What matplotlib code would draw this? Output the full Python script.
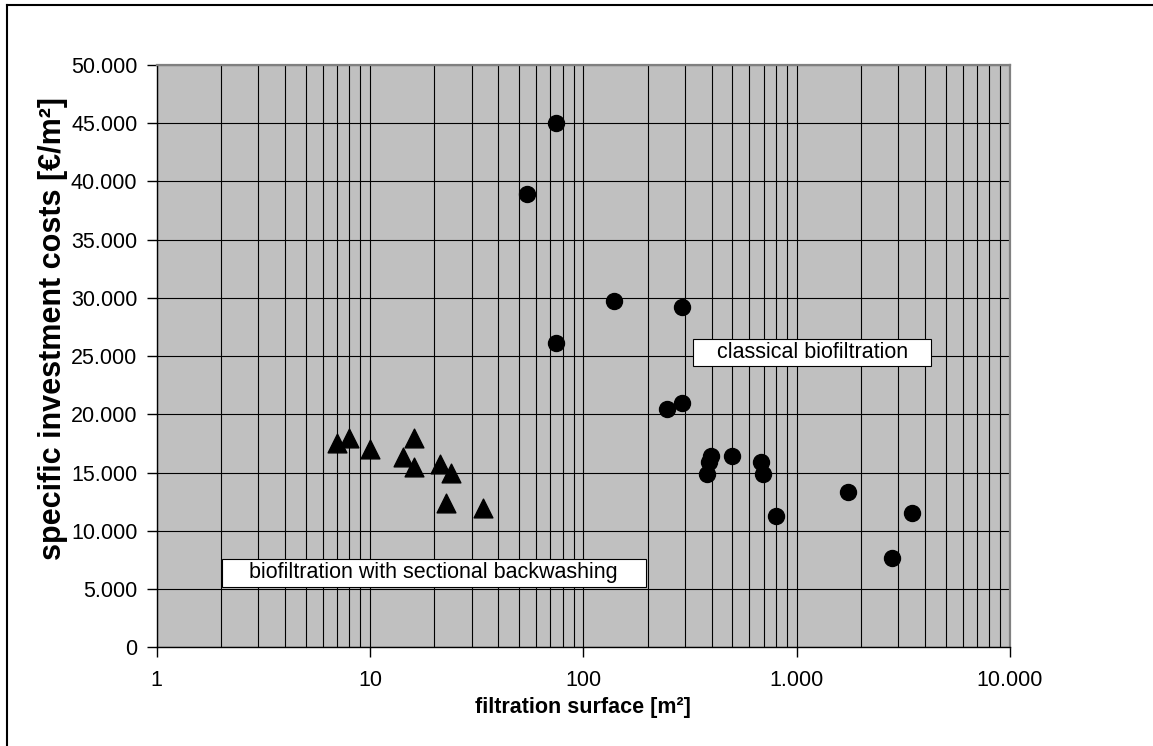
import matplotlib
matplotlib.use("Agg")
import matplotlib.pyplot as plt
from matplotlib.ticker import FixedLocator, FuncFormatter, LogLocator, NullFormatter
from matplotlib.patches import Rectangle
from matplotlib.lines import Line2D

plt.rcParams['font.family'] = ['Liberation Sans', 'DejaVu Sans']

# Data: biofiltration with sectional backwashing (triangles)
sect_area = [7.0, 8.0, 10.0, 16.0, 14.2, 16.0, 21.3, 24.0, 22.6, 34.0]
sect_cost = [17500, 18000, 17000, 18000, 16300, 15450, 15750, 15000, 12400, 12000]

# Data: classical biofiltration (circles)
class_area = [74.5, 54.6, 139, 289, 74.5, 248, 289, 397, 388, 379, 500, 679, 698, 798, 1746, 3485, 2800]
class_cost = [45000, 38900, 29700, 29200, 26100, 20500, 21000, 16400, 15900, 14900, 16400, 15900, 14900, 11300, 13300, 11500, 7700]

y_ticks = [0, 5000, 10000, 15000, 20000, 25000, 30000, 35000, 40000, 45000, 50000]
x_ticks = [1, 10, 100, 1000, 10000]

xlabel = "filtration surface [m²]"
ylabel = "specific investment costs [€/m²]"
label_classical = "classical biofiltration"
label_sectional = "biofiltration with sectional backwashing"

W, H = 1153, 746
fig = plt.figure(figsize=(W / 100, H / 100), dpi=100)
fig.patch.set_facecolor('white')

left, right, bottom, top = 156.7, 1010.0, 647.3, 65.0
ax = fig.add_axes([left / W, 1 - bottom / H, (right - left) / W, (bottom - top) / H])
ax.set_facecolor('#C0C0C0')

ax.set_xscale('log')
ax.set_xlim(1, 10000)
ax.set_ylim(0, 50000)

def thousands(v, pos=None):
    return f"{int(round(v)):,}".replace(",", ".")

ax.xaxis.set_major_locator(FixedLocator(x_ticks))
ax.xaxis.set_major_formatter(FuncFormatter(thousands))
ax.xaxis.set_minor_locator(LogLocator(base=10, subs=range(2, 10)))
ax.xaxis.set_minor_formatter(NullFormatter())
ax.yaxis.set_major_locator(FixedLocator(y_ticks))
ax.yaxis.set_major_formatter(FuncFormatter(thousands))

ax.grid(True, which='major', axis='both', color='black', lw=0.8)
ax.grid(True, which='minor', axis='x', color='black', lw=0.8)
ax.set_axisbelow(True)

ax.tick_params(axis='x', which='major', direction='out', length=7, width=1, pad=9, labelsize=15.5, color='black')
ax.tick_params(axis='x', which='minor', length=0)
ax.tick_params(axis='y', which='major', direction='out', length=7, width=1, pad=7, labelsize=15.5, color='black')

for s in ['top', 'right']:
    ax.spines[s].set_color('#808080')
    ax.spines[s].set_linewidth(1.6)
for s in ['left', 'bottom']:
    ax.spines[s].set_color('black')
    ax.spines[s].set_linewidth(1.0)

ax.scatter(sect_area, sect_cost, marker='^', s=13.5 ** 2, color='black', zorder=3, clip_on=False)
ax.scatter(class_area, class_cost, marker='o', s=11.5 ** 2, color='black', zorder=3, clip_on=False)

# annotation boxes
ax.add_patch(Rectangle((0.6289, 0.4831), 0.9074 - 0.6289, 0.5295 - 0.4831, transform=ax.transAxes,
                       facecolor='white', edgecolor='black', lw=0.8, zorder=4))
ax.text(0.7686, 0.5063, label_classical, transform=ax.transAxes, ha='center', va='center',
        fontsize=15.5, zorder=5)
ax.add_patch(Rectangle((0.0762, 0.1041), 0.5731 - 0.0762, 0.1511 - 0.1041, transform=ax.transAxes,
                       facecolor='white', edgecolor='black', lw=0.8, zorder=4))
ax.text(0.3242, 0.1276, label_sectional, transform=ax.transAxes, ha='center', va='center',
        fontsize=15.5, zorder=5)

fig.text(583 / W, 1 - 708 / H, xlabel, ha='center', va='center', fontsize=15.5, fontweight='bold')
fig.text(53 / W, 1 - 328 / H, ylabel, ha='center', va='center', rotation=90, fontsize=22, fontweight='bold')

# outer chart border
fig.add_artist(Line2D([7 / W, 7 / W], [0, 1 - 5 / H], transform=fig.transFigure, color='black', lw=1.5))
fig.add_artist(Line2D([7 / W, 1], [1 - 5 / H, 1 - 5 / H], transform=fig.transFigure, color='black', lw=1.5))

fig.savefig('out.png', dpi=100)
